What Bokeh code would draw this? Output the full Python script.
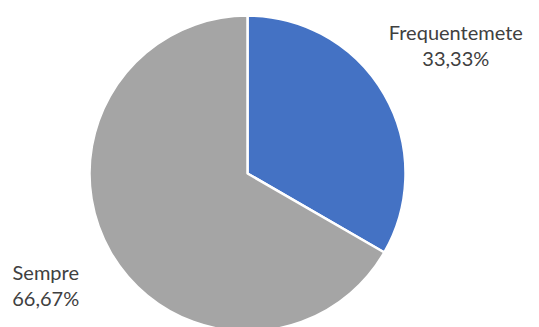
import numpy as np
from bokeh.plotting import figure
from bokeh.models import ColumnDataSource
from bokeh.core.properties import value
from bokeh.embed import file_html
from bokeh.resources import INLINE

categories = ["Frequentemete", "Sempre"]
shares = [33.33, 66.67]
colors = ["#4472C4", "#A5A5A5"]

W, H = 539, 327
cx, cy, R = 247, 173, 158  # pixel center & radius (layout)

vals = np.array(shares, dtype=float)
frac = vals / vals.sum()
ends = np.cumsum(frac) * 2 * np.pi
starts = ends - frac * 2 * np.pi
# clockwise from 12 o'clock
start_ang = np.pi / 2 - starts
end_ang = np.pi / 2 - ends
mid = (starts + ends) / 2

src = ColumnDataSource(dict(start=start_ang, end=end_ang, color=colors,
                            cat=categories))

p = figure(width=W, height=H, output_backend="svg", toolbar_location=None,
           x_range=(-cx / R, (W - cx) / R), y_range=(-(H - cy) / R, cy / R),
           min_border=0, outline_line_color=None)
p.axis.visible = False
p.grid.visible = False
p.background_fill_color = "white"
p.border_fill_color = "white"

p.wedge(x=0, y=0, radius=1, start_angle="start", end_angle="end",
        direction="clock", fill_color="color", line_color="white",
        line_width=2.5, source=src)

label_r = [1.55, 1.46]
label_shift = np.radians([-1.7, 1.0])
lx = [r * np.sin(m + s) for r, m, s in zip(label_r, mid, label_shift)]
ly = [r * np.cos(m + s) for r, m, s in zip(label_r, mid, label_shift)]
pct = [f"{v:.2f}".replace(".", ",") + "%" for v in shares]
gap = 13 / R
lsrc = ColumnDataSource(dict(x=lx, yn=[y + gap for y in ly],
                             yp=[y - gap for y in ly],
                             name=categories, pct=pct))
for col in ("name", "pct"):
    p.text(x="x", y="yn" if col == "name" else "yp", text=col, source=lsrc,
           text_font=value("Lato"), text_font_size="20px",
           text_color="#404040", text_align="center",
           text_baseline="middle")

open("out.html", "w").write(file_html(p, INLINE))
